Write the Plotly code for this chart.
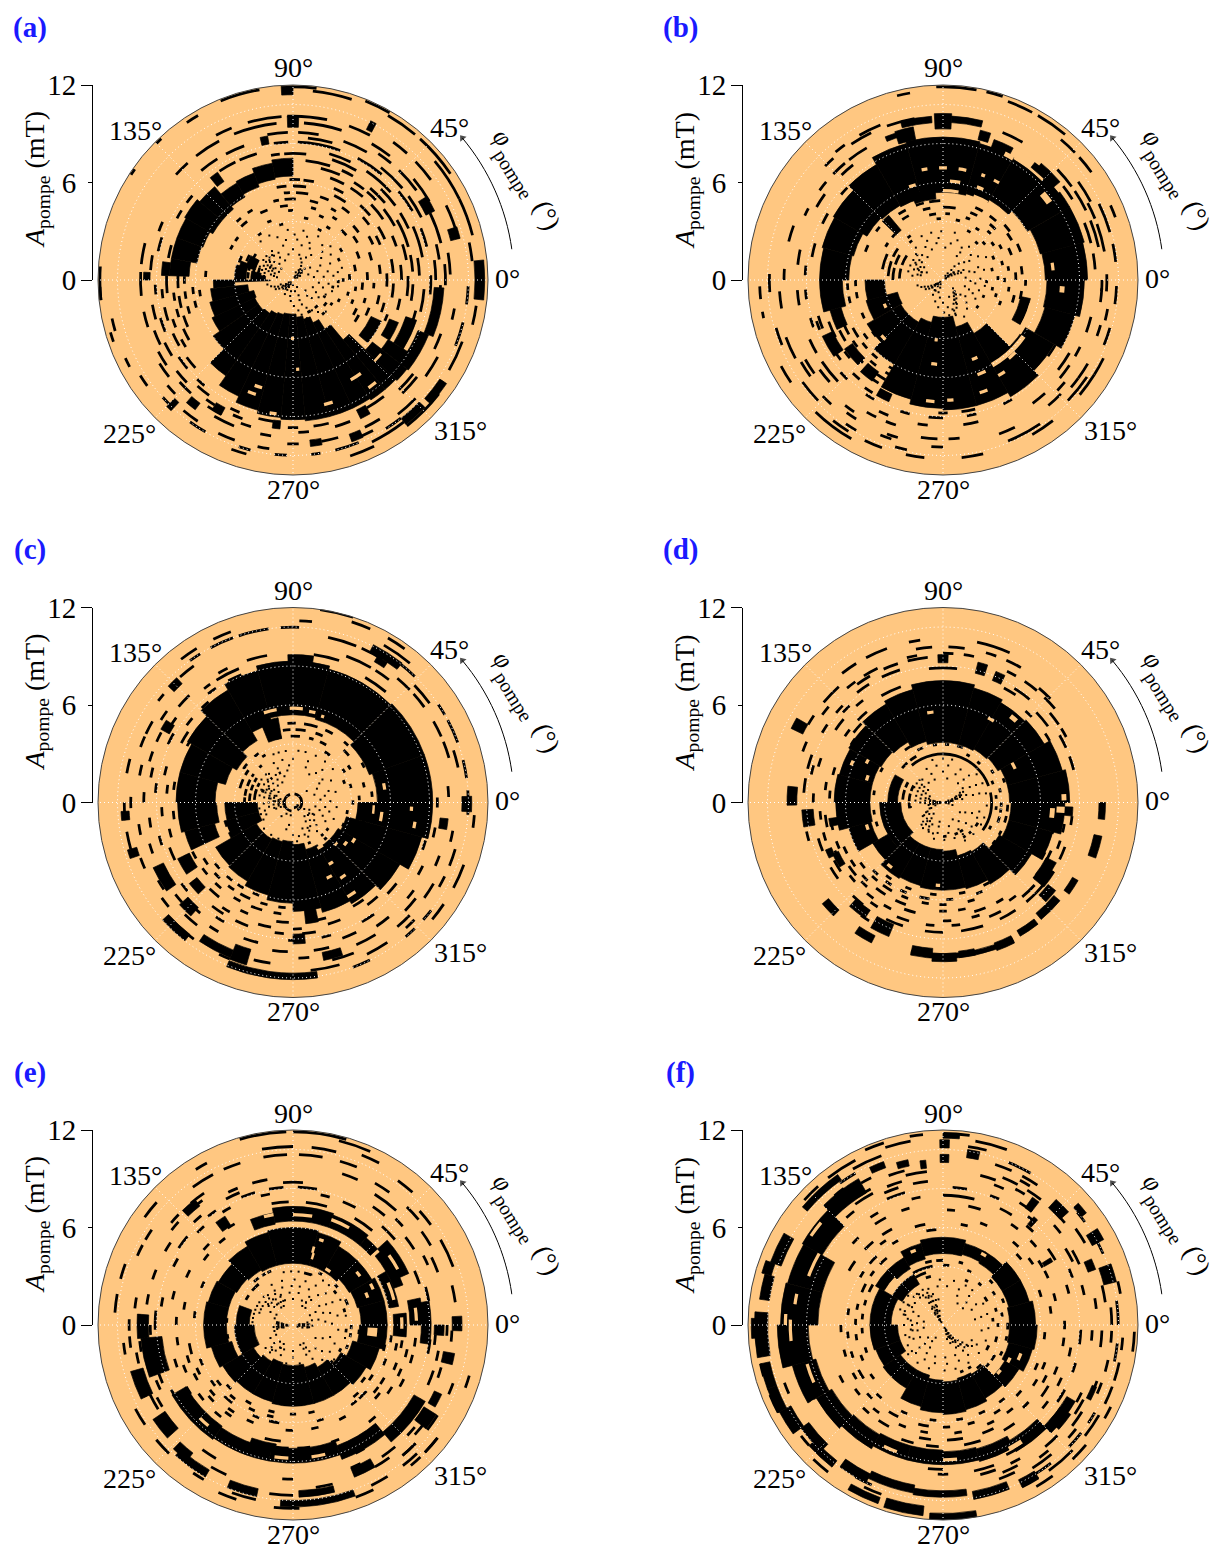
import plotly.graph_objects as go

W, H = 1213, 1547
ORANGE = "#FFC781"
BLUE = "#1a1aff"

# Each *_solid row: amplitude from, amplitude to, angle from, angle to (filled black regions)
# Each *_holes row: same, orange gaps inside black regions
# Each *_rings entry: amplitude -> pairs of angle from, angle to (thin black arcs)
# Each *_dots / *_streak entry: amplitude -> angles of isolated points
a_solid = [(6.4,7.5,90,100),(6.3,7.3,100,110),(6.1,7.0,110,120),(5.9,6.9,120,130),(5.7,7.5,130,140),(5.7,7.7,140,150),(5.9,7.6,150,160),(6.0,7.6,160,170),(6.4,7.6,170,178),
 (3.6,4.9,180,186),(2.8,5.1,186,195),(2.5,5.3,195,205),(2.6,5.5,205,215),(2.6,6.0,215,225),(2.5,7.2,225,235),(2.3,7.9,235,245),(2.2,8.3,245,255),(2.1,8.5,255,265),(2.1,8.6,265,275),(2.3,8.7,275,285),(2.5,8.7,285,295),(2.9,8.7,295,303),(3.6,8.8,303,310),(4.8,8.8,310,316),(6.2,8.9,316,322),(6.9,8.6,322,328),
 (8.3,9.0,322,338),(8.7,9.3,338,357),(7.3,8.0,328,342),(6.4,7.0,328,338),(5.3,6.0,320,335),
 (2.0,2.6,168,180),(2.4,3.0,150,165),(2.9,3.4,160,180),(1.7,2.2,172,180),(3.3,3.6,165,180),(1.4,3.6,180,182),
 (11.4,11.95,90,93.5),(10.9,11.4,318,326),(10.8,11.3,308,316),(11.2,11.8,-6,6),(10.1,10.6,290,294),(9.9,10.3,276,280),(8.9,9.5,296,300),(8.7,9.2,262,265),(10.3,11.0,225,227),(8.9,9.4,238,242),(9.5,10.0,229,233),(10.3,10.9,62,64),(9.4,10.1,88,92),(8.5,9.0,100,103),(7.4,8.1,125,129),(8.8,9.2,177,180),(7.6,8.1,172,178),(10.0,10.6,14,18),(9.1,9.7,26,32)]
a_holes = [(7.0,7.2,300,306),(7.8,8.0,284,288),(5.4,5.6,272,274),(8.2,8.4,260,263),(7.3,7.5,248,252),(3.5,3.7,268,271),(7.0,7.15,315,320),(8.0,8.2,305,309),(6.8,7.0,250,254)]
a_rings = {11.8:[60,68,83,90,100,112,133,135,145,147,176,186,182,186],
 11.6:[50,60,72,84,34,48,196,199,120,124],
 11.3:[26,40,14,26,-2,4,-14,-8,288,296,308,322,192,196,205,208],
 11.0:[6,12,-30,-20,-42,-34,296,308,250,255,-50,-44,212,216],
 10.7:[276,279,284,292,302,308,222,226,234,240,252,256,264,268,-22,-14,-8,-2],
 10.4:[14,26,36,44,48,54,290,298,230,236,244,250,258,262,308,316],
 10.0:[78,92,94,106,112,118,62,70,-36,-28,-14,-10,280,286,296,302,268,272,220,224],
 9.6:[72,86,96,112,118,128,132,138,52,60,30,40,-46,-38,2,10,-26,-20,212,218,240,248,258,262],
 9.3:[166,174,177,186,192,198,208,214,222,228,236,242,250,254,272,276,286,292,314,322,14,26,36,46,50,56,-2,6],
 9.0:[60,70,80,88,92,100,-10,-2,200,206,218,224,234,238,246,250,268,272,278,284,300,308,8,14],
 8.7:[110,118,122,130,40,52,74,84,26,36,0,8,156,160,170,176,190,196,206,212,228,234,244,248,256,262],
 8.4:[70,88,92,98,50,62,30,40,14,22,-6,2,162,168,182,186,196,202,214,220,226,230],
 8.0:[106,114,116,124,64,74,42,56,10,24,-14,-4,140,144,148,152,184,188,192,198,204,210,216,222],
 7.7:[84,94,96,100,60,72,36,46,24,32,2,10,164,170,178,186,198,202,208,212,-20,-14,-28,-24],
 7.3:[60,66,72,84,40,50,16,30,4,12,-10,-2,186,190,194,198,204,210,-26,-18],
 7.0:[66,76,44,50,52,58,28,38,10,18,-8,2,178,184,188,194,198,204],
 6.6:[50,58,62,70,34,44,18,24,0,8,-16,-10,178,182,186,190,194,198,-28,-24],
 6.1:[78,84,86,92,60,66,40,48,24,32,4,12,-10,-2,184,188,192,196,-24,-20],
 5.7:[82,90,94,100,56,64,36,42,22,28,-4,4,-20,-14,186,190],
 5.3:[80,88,92,96,66,72,50,56,24,30,4,10,-16,-10,174,178],
 4.9:[88,96,100,104,72,78,58,62,36,42,14,20,-6,-2,-26,-20,120,124,130,134],
 4.5:[94,100,110,116,128,134,72,76,54,58,30,36,0,6,-18,-14,-34,-28],
 4.2:[90,94,64,68,40,46,18,24,-8,-2,-30,-24,142,146,150,154],
 3.8:[110,114,76,80,54,58,8,14,-10,-6,-22,-18],
 3.4:[100,104,124,128,60,64,30,34,0,6,-16,-12,155,162,166,176],
 3.0:[150,158,162,172,174,180,22,26,-2,2,-26,-22],
 2.7:[145,152,156,168,170,178,-4,0,-34,-30,-50,-46],
 2.4:[150,160,164,180,-12,-8,-40,-34],
 2.1:[160,178,-30,-26,-52,-46,-66,-60]}
a_dots = {3.1:[118,130,96,78,60,42,14],2.8:[110,88,72,50,34,10,-8,-44],2.5:[100,84,66,44,24,6,-16,-52,-70],2.2:[126,106,76,62,38,14,-6,-24,-58,-76,-88],1.9:[140,128,118,90,54,28,6,-14,-34,-64,-80],1.6:[150,136,120,100,60,20,-6,-28,-44,-70,-88],1.3:[146,130,112,36,8,-20,-48,-72,-96],1.0:[150,136,44,20,-40,-70,-100,-120],0.7:[40,60,-120,-100,-80,210,230],0.5:[30,50,70,210,225,240,-60],0.3:[30,60,210,240,270]}
a_streak = {0.2:[45,225,60],0.4:[42,48,222,230],0.6:[44,52,218,226],0.8:[46,56,214,222,200],1.0:[60,212,204,170],1.2:[64,208,200,168,160],1.4:[70,166,156,150,196],1.6:[76,160,152,146,190],1.8:[150,158,166,172,142],2.0:[146,154,162,136,130],2.2:[138,146,158]}

b_solid = [(6.3,8.9,0,15),(6.2,9.0,15,30),(6.0,8.9,30,45),(5.7,8.6,45,60),(5.5,8.7,60,75),(5.4,8.8,75,90),(5.4,8.8,90,105),(5.2,8.7,105,120),(5.3,8.2,120,135),(5.4,7.8,135,150),(5.7,7.7,150,165),(5.8,7.6,165,180),(6.2,7.6,180,195),(6.5,7.2,195,205),
 (3.6,4.8,180,195),(2.9,4.9,195,210),(3.0,5.4,210,225),(3.0,6.0,225,240),(2.7,7.6,240,255),(2.3,7.9,255,270),(2.3,8.0,270,285),(3.0,8.0,285,300),(3.8,8.3,300,315),(5.8,7.9,315,330),(6.5,8.4,330,345),(6.4,8.7,345,360),(4.9,5.5,-30,-12),
 (9.3,10.25,87,93),(8.8,9.6,101,108),(8.9,9.5,72,76),(8.6,9.2,62,70),(8.8,9.4,40,52),(8.5,9.0,30,37),(5.0,5.6,95,110),(9.7,10.1,76,87),(9.7,10.1,94,105),(9.2,9.5,105,112),(4.0,5.2,130,136),(7.5,8.2,205,215),(6.8,7.4,215,225),(6.9,7.6,228,235),(7.7,8.2,240,246)]
b_holes = [(5.9,6.2,300,325),(5.5,5.85,325,345),(5.7,6.1,-15,8),(6.8,7.0,60,63),(6.8,7.0,68,70),(6.8,7.0,78,82),(6.8,7.0,88,92),(6.8,7.0,98,101),(6.0,6.2,106,110),(6.0,6.2,80,86),(6.0,6.2,66,70),(5.4,5.6,80,90),(5.4,5.6,60,70),(3.6,3.8,262,265),(5.1,5.3,262,266),(5.1,5.3,290,294),(6.1,6.3,290,295),(6.7,6.9,300,304),(6.2,6.4,-50,-45),(5.0,5.2,222,226),(3.8,4.0,202,206),(7.4,7.6,262,266),(7.3,7.5,272,275),(7.2,7.4,288,292),(6.7,6.9,5,9),(7.2,7.5,-6,-3),(8.5,8.8,60,64),(9.2,9.5,50,60),(7.9,8.3,36,41)]
b_rings = {11.8:[80,92,72,77],11.6:[50,60,100,104,62,70],
 11.2:[44,50,36,42,20,24,190,192,182,186,208,214,226,240],
 10.9:[300,308,276,283,258,264,320,328,-32,-26,232,238,244,250],
 10.6:[292,304,316,326,16,26,6,12,-8,-2,-22,-16,178,184,196,202,216,224,236,240,254,258],
 10.2:[28,36,112,120,126,130,-14,-10,-36,-30,-40,-36,200,208,224,228,248,252,266,270],
 10.0:[100,110,116,124,132,136,10,20,22,28,-4,2,-20,-16,184,190,210,216,234,238,250,254,290,296,310,316],
 9.7:[60,68,36,44,26,34,12,22,-4,0,-8,-3,176,180,160,166,210,216,232,236,262,268,272,276,-44,-40],
 9.3:[120,128,130,136,140,144,152,155,32,38,14,22,4,10,-20,-14,216,222,240,244,248,252,306,312,320,326,-30,-26],
 8.9:[128,134,144,150,168,174,184,190,204,210,214,224,244,248,260,264,278,284,322,330],
 8.4:[174,178,184,188,196,200,-10,-6,222,226,236,240,252,256,264,270,280,284,296,300],
 8.1:[136,140,150,155,164,170,198,202,234,238,268,272,278,284,-28,-22,-16,-12],
 7.9:[196,202,214,218,226,230,-4,0,-36,-30],7.4:[200,208,216,220,232,238],7.0:[206,212,222,226,234,240,246,250],
 6.6:[204,210,214,218,228,232,238,244,250,254],6.2:[208,214,218,222,226,230,238,242],5.8:[214,218,190,194,182,186,170,174],
 5.3:[180,184,188,192,202,206,216,220,226,230],5.0:[155,160,140,144,36,42,20,26,-4,0],
 4.8:[92,100,104,110,118,124,60,66,48,54,30,36,4,10,-14,-8],4.4:[80,90,100,106,118,124,62,68,44,50,20,26,0,6,-18,-12],
 4.0:[84,88,96,102,66,70,44,48,28,32,8,12,-10,-6,136,140,146,150],3.7:[74,78,92,96,54,58,34,38,14,18,-2,2,-24,-20,155,170],
 3.3:[126,130,145,155,160,176,60,64,40,44,22,26,0,4,-18,-14],3.0:[128,132,150,162,166,180,46,50,10,14,-12,-8],2.6:[146,160,165,178,-4,0,-24,-20,-40,-36]}
b_dots = {3.0:[116,104,92,76,28],2.6:[130,112,96,70,52,34,14,-8,-60],2.3:[136,118,100,78,60,42,20,2,-16,-30,-50,-70,-90],2.0:[148,130,110,86,58,36,14,-6,-24,-44,-70,-88],1.7:[156,140,124,60,40,18,-2,-20,-36,-60,-80,-100],1.4:[160,146,46,26,6,-16,-40,-60,-90,-110],1.1:[155,50,30,-50,-70,-100,-124],0.8:[50,36,-110,-130,215,235],0.5:[40,55,210,230,250],0.3:[40,60,220,240]}
b_streak = {0.2:[35,215,30],0.4:[32,38,212,218],0.6:[28,36,210,216],0.8:[26,34,206,214,320],1.0:[24,204,212,316,310],1.2:[22,200,208,312,304],1.4:[160,168,198,306,300],1.6:[150,158,168,192,300,294],1.9:[140,150,160,172,296,288],2.2:[136,146,156,166,290,280]}

c_solid = [(5.2,8.6,0,20),(5.0,8.6,20,45),(5.3,8.5,45,75),(5.4,8.7,75,105),(5.0,8.4,105,120),(4.4,8.0,120,135),(4.0,7.5,135,150),(4.3,7.2,150,165),(4.8,7.2,165,180),(4.7,7.1,180,195),(5.0,6.9,195,205),
 (2.2,4.2,180,195),(2.2,4.4,195,210),(2.6,5.5,210,225),(2.6,5.6,225,240),(2.5,5.9,240,255),(2.4,6.2,255,270),(2.6,6.7,270,285),(3.0,7.0,285,300),(3.2,7.2,300,315),(3.2,7.6,315,330),(3.4,8.2,330,345),(4.0,8.6,345,360),
 (8.5,9.1,82,92),(4.0,5.3,100,112),(6.6,7.5,276,282),(10.4,10.9,52,63),(10.0,10.4,56,60),(9.1,9.6,-10,-6),(10.4,11.0,-3,2),(10.1,10.6,183,186),(10.0,10.6,196,199),(8.8,9.5,205,215),(8.7,9.4,222,228),(7.1,7.9,206,214),(9.4,10.4,248,254),(8.1,8.7,270,275),(10.5,10.9,248,262),(10.5,10.9,262,278),(9.4,9.9,281,288),(7.5,8.1,218,224),(8.7,9.3,147,151),(10.0,10.5,133,137),(10.3,10.8,222,232),(9.8,10.3,236,248)]
c_holes = [(5.5,5.7,70,72),(5.6,5.8,76,80),(5.7,5.9,84,92),(5.7,5.9,100,108),(5.0,5.15,48,54),(5.0,5.15,64,68),(4.9,5.05,-8,-2),(5.6,5.8,8,12),(7.2,7.4,-4,-2),(7.5,7.7,-12,-9),(4.3,4.5,-60,-56),(4.0,4.2,-40,-36),(5.0,5.2,-66,-62),(4.3,4.5,-34,-30),(3.6,3.75,-46,-42),(5.4,5.6,-12,-6),(4.3,4.5,200,205),(4.5,4.7,178,182),(3.1,3.3,-62,-55),(5.4,5.6,-58,-54),(6.6,6.8,-60,-55)]
c_rings = {11.9:[72,82],11.6:[66,72,54,60],11.1:[50,60,84,88,110,116,122,128,-28,-20,-8,-4,-40,-34],
 10.7:[88,94,98,108,110,118,122,126,46,52,30,34,20,28,8,14,-4,4,-42,-38,-50,-46,-70,-64],
 10.3:[68,78,58,66,126,132,140,143,36,44,12,18,-22,-16,-30,-26,165,170,180,186,190,196,226,234,244,248,276,286,296,304,312,316],
 9.9:[44,50,36,42,24,30,16,22,-14,-10,-50,-44,150,155,156,160,178,182,200,204,216,220,238,244,256,262,284,292,-36,-30],
 9.5:[60,70,52,58,144,148,166,170,188,192,210,214,226,232,250,254,272,276,294,302,316,322,-24,-20,2,6],
 9.1:[72,82,100,108,116,120,134,140,152,156,160,164,176,180,196,200,218,222,236,240,262,268,278,284,304,310,-40,-36],
 8.8:[50,60,112,122,125,128,144,148,166,170,186,190,206,210,226,230,250,256,290,296,-30,-26,-14,-10,-2,2],
 8.4:[112,118,124,128,150,155,172,176,194,198,216,220,236,240,268,272,282,286,300,306,-20,-16],
 8.0:[130,134,140,144,164,168,182,186,200,206,232,238,244,250,262,266,274,280,316,322],
 7.7:[146,152,172,176,192,196,218,222,236,240,254,260,270,274,286,292,306,312],
 7.3:[134,138,148,152,170,174,184,188,206,212,226,232,244,248,262,268,280,286,300,306,-44,-40],
 6.8:[206,210,216,220,226,230,238,242,248,254,260,264],6.4:[212,216,222,226,232,236,240,246,252,256,262,266],6.0:[218,222,228,232,236,240,246,250,262,266],
 4.8:[60,66,72,82,88,94,46,50,26,30,4,8,-14,-10,-28,-24],4.4:[66,72,80,88,92,98,40,46,12,16,-4,0,-20,-14],
 4.0:[60,66,72,76,84,92,100,106,30,34,2,6,-10,-6,-16,-12],3.6:[52,58,30,34,14,18,-2,2,-24,-20,-34,-30,125,130,140,146],
 3.3:[120,124,144,150,155,165,20,24,-12,-8,-26,-22],2.9:[130,134,144,148,152,160,164,172,174,180,-50,-46],2.6:[146,152,156,164,168,178,-40,-36,-50,-46,-70,-66,-90,-84],2.3:[150,156,160,176],
 1.9:[112,116,130,134,156,162],0.45:[-60,80,110,260],0.25:[-80,-20]}
c_dots = {3.2:[98,106,112,84,76,64,52,40],2.7:[116,104,90,70,48,30,14,-6,-22],2.3:[130,114,96,70,52,38,18,2,-14,-30,-50,-66],2.0:[140,122,100,60,36,12,-8,-24,-44,-60,-90],1.7:[150,136,124,108,30,6,-16,-40,-70,-104],1.4:[146,132,118,170,20,-10,-30,-56,-100],1.1:[158,144,176,200,40,-24,-50,-130],0.8:[165,180,200,-30,-100,-120],0.6:[175,190,205]}
c_streak = {0.9:[170,176,186,192],1.2:[160,166,176,186,196,-40,-34],1.5:[152,158,164,170,180,190,-46,-30],1.8:[146,154,160,170,182,196,204,-54,-60],2.1:[138,148,158,168,190,200,210,-70,-80],2.4:[134,144,164,222,236,248,-84]}

d_solid = [(4.1,7.8,0,15),(4.1,7.6,15,30),(3.9,7.2,30,45),(3.8,7.1,45,60),(3.7,7.3,60,75),(3.7,7.5,75,105),(3.9,7.2,105,120),(4.3,7.0,120,135),(4.4,6.7,135,150),(4.5,6.6,150,165),(4.5,6.7,165,180),(4.5,6.6,180,195),(4.6,6.0,195,210),(3.9,5.0,210,225),
 (2.9,5.4,225,240),(2.9,5.3,240,255),(2.9,5.4,255,270),(3.0,5.4,270,285),(3.4,5.5,285,300),(3.5,5.8,300,315),(4.0,6.3,315,330),(4.2,7.0,330,345),(4.2,7.5,345,360),(2.6,3.9,180,225),(2.8,3.4,150,180),
 (8.6,9.1,88,92),(8.2,8.9,72,76),(8.1,8.7,64,68),(9.0,9.6,174,181),(8.0,8.7,183,190),(9.6,10.0,-6,0),(7.0,8.0,-6,-2),(9.5,10.0,-20,-12),(9.6,10.4,150,154),(7.1,7.5,205,212),(9.2,9.7,290,297),(9.3,9.8,266,275),(9.2,9.7,220,226),(9.2,9.7,236,243),(9.0,9.5,258,266),(8.9,9.4,310,320),(9.1,9.5,300,308),(9.2,9.6,276,282),(9.3,9.6,258,282),(9.3,9.6,282,297),(8.1,8.9,240,248),(8.0,8.6,228,236),(7.2,7.9,322,332),(7.3,8.1,-40,-32),(6.3,7.1,188,192),(7.4,7.8,202,206),(9.2,9.6,-36,-30),(8.2,8.8,-44,-38)]
d_holes = [(7.0,7.5,-5,-2),(7.3,7.6,1,4),(6.6,6.9,-8,-3),(5.5,5.7,96,100),(5.8,6.0,58,62),(4.8,5.0,25,30),(5.0,5.2,265,268),(6.6,6.9,48,52),(5.0,5.2,228,232),(4.8,5.0,160,164),(6.0,6.2,155,158),(5.2,5.4,150,153),(4.8,5.0,196,200)]
d_rings = {10.0:[98,102,110,118,122,128,66,78],9.5:[132,140,146,150,60,66,70,74,82,88,94,100],
 9.1:[44,50,116,122,126,130,78,82,86,90,100,104,140,144,156,160],8.9:[40,46,50,56,60,64,96,104,108,114,120,126],
 8.5:[34,40,28,32,108,116,122,128,136,140,146,150,160,166,170,176,192,196,234,238],8.2:[14,20,24,30,50,58,84,96,134,138,164,168],
 7.9:[36,44,56,62,128,132,140,146,160,164,176,180,196,202,210,216,226,232,244,252,262,270,278,288,296,304,316,322,-10,-6,-26,-20,-36,-32,-50,-44],
 7.5:[30,34,44,48,110,120,184,188,194,198,208,214,234,238,248,254,262,266,274,278,292,298,310,318,-14,-10,-22,-18],
 7.2:[10,14,20,24,130,136,142,146,170,174,186,192,204,208,218,222,230,234,240,244,270,274,284,288,304,308,-30,-24,-40,-36],
 6.9:[-16,-12,136,142,162,166,174,178,190,194,200,204,214,220,224,228,250,256,286,292,298,302,-30,-26],
 6.6:[130,134,144,148,204,208,212,216,222,226,232,238,244,250,268,272,278,282],6.2:[216,220,226,230,234,240,246,250,258,262,268,272,284,288],5.9:[224,228,234,238,244,248,256,262,272,276,290,294],5.6:[232,236,246,250,262,266,280,284,296,300],
 4.2:[186,190,196,200,170,174,150,154,210,214],3.9:[100,104,110,114,120,126,34,38,18,22,-8,-2,-18,-12,-30,-26,-40,-36],3.5:[110,116,96,100,84,88,70,76,30,34,10,14,-4,0,-10,-6,-20,-14],3.2:[120,128,132,140,60,64,46,50,20,24,4,8,-8,-4,-30,-26],
 2.9:[20,130,-35,12],2.4:[150,158,162,176,-36,-30,-50,-46,-60,-56],2.0:[150,160,165,178,180,190,-60,-54,-70,-64,-90,-84]}
d_dots = {2.7:[104,90,78,40,26,12,-4,-20,-30,-46,-60],2.3:[116,100,82,62,46,28,14,-14,-24,-40,-58,-72,-88,-104],1.9:[132,112,90,66,48,30,14,-20,-42,-60,-80,-100,-118,-134],1.5:[140,126,110,80,52,36,18,-24,-50,-76,-100,-116,-130,-146],1.2:[152,140,30,22,10,-30,-60,-100,-126,-150],0.9:[165,155,25,15,-156,-170,-130],0.6:[170,180,190,20,10,-15],0.35:[175,190,5,20,-10],0.15:[180,0]}
d_streak = {0.2:[170,190,10,-5],0.5:[172,184,8,14,-160],0.8:[170,178,186,16,22,-155],1.1:[166,174,182,24,18,-150,-140],1.4:[150,160,170,180,28,-146,-135,-125],1.7:[140,148,156,166,176,-136,-128,-120],2.0:[136,144,152,188,-128,-116,-108]}

e_solid = [(4.2,5.8,0,15),(4.1,5.8,15,30),(4.0,5.6,30,45),(3.8,5.6,45,60),(3.8,5.9,60,75),(3.8,6.0,75,105),(3.8,5.9,105,120),(3.9,5.6,120,135),(4.0,5.3,135,150),(4.1,5.4,150,165),(4.1,5.5,165,195),(3.9,5.2,195,210),(2.8,5.0,210,225),(2.6,4.9,225,240),(2.4,4.9,240,255),(2.5,5.0,255,285),(2.7,5.0,285,300),(3.0,5.0,300,315),(3.4,5.2,315,330),(3.8,5.5,330,345),(4.1,5.8,345,360),(2.4,3.6,180,210),(2.7,3.5,160,180),
 (8.1,9.4,185,200),(8.9,9.6,176,185),(7.6,8.6,210,235),(7.7,8.5,235,260),(7.6,8.5,260,290),(7.9,8.8,290,310),(8.6,9.4,310,330),(7.4,7.9,250,262),(6.4,7.0,42,50),(6.4,7.3,70,100),(6.3,7.0,100,112),(6.4,7.2,50,70),(6.0,6.6,10,30),(6.6,7.2,20,40),(7.0,7.8,24,42),(7.2,8.0,0,12),(7.9,8.5,-8,10),(6.2,7.0,-6,6),
 (10.8,11.2,266,290),(10.3,10.8,228,240),(10.3,10.8,248,258),(10.2,10.6,272,284),(9.5,10.1,292,300),(10.0,10.6,226,232),(9.5,10.4,214,222),(9.6,10.4,196,206),(9.8,10.4,-2,3),(9.6,10.1,-30,-25),(9.5,10.4,-38,-32),(9.3,9.8,128,134),(7.2,7.9,122,127),(9.4,10.1,-14,-10),(8.7,9.3,-4,0)]
e_holes = [(5.0,5.2,36,40),(5.4,5.6,70,73),(4.2,4.6,73,75),(4.6,5.0,74,76),(4.6,5.2,-8,-2),(3.9,4.1,55,60),(4.8,5.0,20,24),(5.3,5.5,24,28),(6.8,7.0,60,70),(6.7,6.9,80,90),(6.3,6.5,14,24),(7.2,7.4,28,36),(6.8,7.0,100,105),(7.5,7.7,2,8),(6.6,6.8,-2,4),(8.0,8.2,225,230),(8.1,8.3,262,268),(8.1,8.3,278,284)]
e_rings = {11.8:[92,106,74,90],11.6:[66,76],11.2:[62,68,118,122,138,144,-20,-16,-44,-38,-50,-46,246,252,264,272,290,296,316,322],
 10.9:[76,84,90,100,48,54,160,165,170,176,208,214,220,226,236,240,250,258,296,302,308,314],
 10.4:[80,88,92,100,68,74,108,114,118,126,146,150,152,156,20,30,36,42,-50,-44,-24,-20,186,190,262,270,310,316,322,328],
 10.0:[54,60,40,46,8,14,184,188,200,206,240,246,278,284,300,306,-42,-36,178,182],9.7:[66,72,124,130,136,140,30,36,-6,-2,170,174,190,194,206,212,304,310,316,320],
 9.4:[48,58,126,130,138,142,20,26,176,180,186,190,208,212,234,240,266,270,292,296,-20,-16,-4,0],
 9.0:[100,106,112,116,42,46,146,150,158,162,168,172,182,186,202,206,326,330,336,342,-14,-10,24,28],8.7:[86,94,112,118,130,134,50,56,32,38,-8,-4,180,184,200,204,296,300],
 8.4:[80,88,94,100,106,112,124,128,140,146,174,178,178,182,196,200,208,212,220,226,-12,-6,10,16],8.1:[62,68,74,78,100,104,118,122,132,136,150,154,40,48,18,24,2,8,168,172,186,190],
 7.5:[196,200,210,214,262,268,272,278,288,292,308,312,-30,-26,-18,-14,-10,-6,164,168,50,60,74,84,92,100],7.1:[176,180,186,190,200,204,216,220,228,232,256,264,-26,-22,-36,-32,-16,-12,152,156,136,140,120,124],
 6.7:[196,200,206,210,220,224,232,236,-42,-38,-24,-20,-12,-8,168,172,140,144,128,132],6.4:[190,196,204,208,218,222,232,236,244,248,266,270,280,284,296,300,320,324,-34,-30,-14,-10],
 6.0:[200,204,214,218,226,232,246,250,256,262,284,288,306,310,-48,-42,-24,-20,-10,-6,172,176,154,158],5.7:[216,220,228,232,242,246,254,258,-50,-46,-36,-32,-16,-12],5.4:[222,226,238,242,254,258,268,272,280,284,-40,-36],
 4.0:[188,192,174,178,200,204,-8,-4,-20,-16],3.5:[112,116,118,122,126,132,60,64,40,44,20,26,-4,0,-12,-8,-24,-20,-34,-30],3.2:[130,140,146,152,70,78,36,40,14,18,-8,-4,-30,-26,-46,-42]}
e_dots = {3.3:[100,92,84,70,56,48,28,10,-14,-40,-56],2.8:[118,104,88,74,60,44,30,12,-6,-24,-36,-50,-66,-84],2.4:[130,118,106,92,80,66,50,32,18,2,-18,-42,-60,-80,-100],2.0:[140,128,112,96,80,60,36,22,6,-24,-46,-66,-90,-112,-130],1.6:[150,136,124,108,90,60,30,12,-30,-60,-90,-120,-136,-150],1.2:[160,148,30,14,-2,-150,-162,-174],0.9:[170,176,184,190,10,2,-6,-10],0.6:[175,185,195,5,-5,-15],0.3:[185,0,-20]}
e_streak = {0.4:[178,186,8,-8],0.7:[172,180,188,-4,4,192],1.0:[170,176,186,194,-8,2],1.3:[116,124,64,54,-128,-116,-60,-70],1.6:[112,118,128,60,70,-118,-110,-66],1.9:[114,124,134,142,54,-124,-134,-58],2.2:[120,132,140,148,154,160,-130,-140],2.5:[136,146,152,158,164,170,176]}

f_solid = [(4.1,5.7,0,15),(4.2,5.5,15,30),(4.2,5.5,30,45),(4.4,5.2,45,60),(4.5,5.2,60,75),(4.4,5.4,75,105),(4.2,5.2,105,120),(4.0,4.8,120,135),(4.2,4.8,135,150),(3.2,4.5,150,180),(2.8,4.5,180,200),(2.8,4.4,200,215),(3.2,4.5,215,240),(3.2,5.2,240,255),(3.4,5.4,255,270),(3.5,5.5,270,285),(3.4,5.4,285,300),(3.5,5.2,300,315),(4.4,5.4,315,330),(4.2,5.7,330,345),(4.1,5.8,345,360),(2.9,3.6,120,150),
 (9.4,10.4,120,135),(8.6,10.0,135,150),(7.7,9.9,150,165),(7.7,10.0,165,180),(8.3,10.2,180,195),(8.1,9.6,195,210),(7.9,9.0,210,225),(7.8,8.8,225,240),(7.7,8.6,240,255),(7.7,8.6,255,270),(7.8,8.6,270,285),(7.9,8.7,285,300),(8.2,9.0,300,315),(8.8,9.4,315,330),
 (10.6,11.3,150,160),(11.0,11.6,160,164),(10.8,11.4,164,172),(10.8,11.6,176,190),(11.1,11.8,178,184),(10.9,11.5,192,200),(10.9,11.5,200,208),(10.6,11.4,208,216),(10.2,10.8,216,226),(10.6,11.1,222,232),(10.2,10.8,234,244),(10.0,10.5,244,260),(10.2,10.6,260,278),(11.2,11.8,252,264),(11.6,12.0,266,280),(11.3,11.7,240,250),(10.4,10.9,280,292),(10.6,11.1,296,302),(10.9,11.3,125,140),
 (10.0,10.5,88,91),(9.7,10.2,96,98),(10.4,10.9,78,82),(10.0,10.4,102,106),(10.3,10.7,110,115),(10.9,11.4,88,91),(11.5,11.8,85,90),(9.5,10.0,20,24),(8.8,9.6,52,55),(8.1,8.7,48,50),(9.7,10.4,42,48),(10.8,11.2,38,42),(10.4,11.2,28,32),(10.2,11.0,14,20),(9.9,10.2,333,338),(8.8,9.6,318,325),(7.2,7.8,30,32)]
f_holes = [(8.7,8.9,150,160),(9.3,9.5,178,186),(8.6,8.8,196,204),(9.1,9.3,168,172),(9.2,9.4,210,214),(8.2,8.4,244,250),(8.2,8.4,270,276),(9.6,9.8,176,180),(9.7,9.9,140,146),(8.5,8.8,298,304),(4.8,5.0,110,114),(4.9,5.1,58,62),(5.0,5.2,-25,-20),(4.5,4.7,-30,-26),(4.4,4.6,318,322)]
f_rings = {11.7:[82,90,96,100,108,114,-8,-2],11.4:[70,80,100,108,118,128,132,138,-60,-54,-46,-40,-30,-26,192,196,202,208,226,232],
 11.0:[76,82,110,120,128,132,-18,-12,-8,-4,10,14,296,302,306,316,322,330,-26,-20,218,222,244,250],
 10.7:[60,68,120,126,36,40,24,30,0,8,-12,-6,300,308,316,322,-34,-30,240,246],
 10.3:[66,72,56,62,126,130,0,6,-6,-2,-16,-12,-24,-20,302,310,318,322,216,220,200,204],
 10.0:[58,62,30,36,8,14,116,120,-38,-32,-24,-20,290,296,306,310],
 9.7:[62,68,52,58,40,46,104,110,-8,-2,292,298,310,316,326,332],9.4:[70,76,96,104,118,124,58,62,6,10,284,290,296,300,-30,-26],9.1:[106,112,118,126,66,70,38,42,24,30,-6,-2,268,272,282,290],
 8.8:[96,102,108,114,52,58,26,32,12,16,128,132,264,270,296,304],8.4:[106,114,80,86,66,70,48,52,20,24,-8,-2,-20,-16,326,332],7.9:[76,90,58,64,46,50,30,36,100,104,120,124,14,18,-14,-10,-28,-24,-40,-36],
 7.4:[72,78,52,56,40,44,106,110,118,124,134,138,-2,2,-10,-6,-24,-20,-36,-30,250,256,262,268,280,288,300,306],7.0:[84,88,30,34,24,28,12,16,-46,-42,-30,-26,206,210,226,230,236,242,258,264,272,280,290,296],
 6.6:[66,70,46,50,34,38,118,124,130,136,144,150,6,10,-24,-20,-34,-30,216,220,230,234,246,250,258,262,276,280,294,298,306,310],
 6.2:[76,80,100,106,124,128,40,44,16,20,-8,-4,-26,-22,-44,-40,180,184,194,198,208,212,222,226,238,244,256,262,270,274,284,288,300,304],
 5.8:[94,100,118,122,134,140,146,150,170,174,184,188,196,200,208,214,226,230,244,248,262,266,278,282,292,296,306,310],
 5.3:[130,136,142,146,152,158,166,170,176,180,186,190,200,204,214,218],4.9:[150,156,162,166,172,176,182,186,196,200,-10,-4],
 3.9:[100,106,90,96,72,76,40,44,20,24,-4,2,-14,-10,-28,-24],3.6:[100,120,84,90,62,66,30,34,8,12,-36,-30,-44,-40],3.3:[108,120,46,50,14,18,-2,2,-18,-12,-52,-46],3.0:[104,110,60,64,28,34,4,8,-30,-24,-60,-56,-70,-66]}
f_dots = {2.8:[94,76,60,50,28,14,-4,-20,-38,-56,-74,-88,-108,-124,-140,140,150,160],2.4:[128,112,98,84,66,48,32,12,-8,-30,-50,-66,-84,-102,-118,-134,150,165,180,195],2.0:[122,116,108,64,44,28,10,-28,-40,-52,-68,-86,-104,-120,-136,156,172,188,205],1.6:[118,112,106,100,56,40,-48,-54,-60,-120,-134,160,176,192,208],1.2:[124,116,108,-52,-60,-68,-124,-140,170,188],0.9:[124,112,104,-62,-74,-120],0.6:[120,110,-60,-70],0.3:[125,-55]}
f_streak = {0.2:[120,-60],0.4:[118,126,-58,-64],0.6:[114,122,-56,-62],0.8:[116,126,-54,-60,-66],1.0:[118,112,-52,-58],1.3:[110,120,-46,-54],1.6:[122,114,-48,-42],1.9:[118,112,-40,-46,180,190],2.2:[116,124,130,142,150,-36,170,200],2.5:[120,130,136,150,160,165,210,220]}

panel_names = ["(a)", "(b)", "(c)", "(d)", "(e)", "(f)"]
panel_solid = [a_solid, b_solid, c_solid, d_solid, e_solid, f_solid]
panel_holes = [a_holes, b_holes, c_holes, d_holes, e_holes, f_holes]
panel_rings = [a_rings, b_rings, c_rings, d_rings, e_rings, f_rings]
panel_dots = [a_dots, b_dots, c_dots, d_dots, e_dots, f_dots]
panel_streak = [a_streak, b_streak, c_streak, d_streak, e_streak, f_streak]
radial_ticks = [0, 6, 12]
grid_amplitudes = [3.6, 6, 8.4, 10.8]
grid_angles = [0, 45, 90, 135, 180, 225, 270, 315]
angle_labels = ["0°", "45°", "90°", "135°", "225°", "270°", "315°"]

CX = [293, 943]
CY = [280, 802.5, 1325]
R = 195
R_OUT = 222
RING_T = 0.17
FONT = "Liberation Serif"
# label offsets from each panel centre, px
LABEL_OFF = [(214, -2), (157, -153), (0, -212), (-158, -150), (-164, 153), (0, 209), (167, 150)]


def px(x):
    return x / W


def py(y):
    return max(0.0, 1 - y / H)


fig = go.Figure()
layout = {}
ann = []
for i, name in enumerate(panel_names):
    cx, cy = CX[i % 2], CY[i // 2]
    pid = "polar" if i == 0 else f"polar{i+1}"
    layout[pid] = dict(
        domain=dict(x=[px(cx - R), px(cx + R)], y=[py(cy + R), py(cy - R)]),
        bgcolor=ORANGE,
        barmode="overlay",
        radialaxis=dict(range=[0, 12], visible=False, showgrid=False),
        angularaxis=dict(showticklabels=False, ticks="", showgrid=False, linecolor="#444444", linewidth=1, thetaunit="degrees", direction="counterclockwise", rotation=0),
    )

    def bars(rows, color, edge=0):
        fig.add_trace(go.Barpolar(
            r=[q[1] - q[0] for q in rows], base=[q[0] for q in rows],
            theta=[(q[2] + q[3]) / 2 for q in rows], width=[abs(q[3] - q[2]) for q in rows],
            marker=dict(color=color, line=dict(width=edge, color=color)), subplot=pid, hoverinfo="skip", showlegend=False))

    ring_rows = []
    for r, seg in panel_rings[i].items():
        for k in range(0, len(seg) - 1, 2):
            ring_rows.append((r, r + RING_T, seg[k], seg[k + 1]))
    bars(panel_solid[i], "black", 0.7)
    bars(panel_holes[i], ORANGE)
    bars(ring_rows, "black")

    dr, dt = [], []
    for group in (panel_dots[i], panel_streak[i]):
        for r, angs in group.items():
            for t in angs:
                dr.append(r)
                dt.append(t)
    fig.add_trace(go.Scatterpolar(r=dr, theta=dt, mode="markers", subplot=pid, showlegend=False, hoverinfo="skip",
                                  marker=dict(symbol="square", size=2, color="black", line=dict(width=0))))
    # white dotted polar grid
    circle = list(range(0, 361, 3))
    for g in grid_amplitudes:
        fig.add_trace(go.Scatterpolar(r=[g] * len(circle), theta=circle, mode="lines", subplot=pid, showlegend=False, hoverinfo="skip",
                                      line=dict(color="white", width=1, dash="1px 3px")))
    for a in grid_angles:
        fig.add_trace(go.Scatterpolar(r=[0, 12], theta=[a, a], mode="lines", subplot=pid, showlegend=False, hoverinfo="skip",
                                      line=dict(color="white", width=1, dash="1px 3px")))
    # pump-angle arrow, in a larger transparent polar frame sharing the panel's centre and scale
    pid_out = f"polar{i+7}"
    layout[pid_out] = dict(
        domain=dict(x=[px(cx - R_OUT), px(cx + R_OUT)], y=[py(cy + R_OUT), py(cy - R_OUT)]),
        bgcolor="rgba(0,0,0,0)",
        radialaxis=dict(range=[0, 12 * R_OUT / R], visible=False, showgrid=False),
        angularaxis=dict(visible=False, showline=False, showgrid=False, showticklabels=False),
    )
    arc = list(range(8, 41, 2))
    fig.add_trace(go.Scatterpolar(r=[13.6] * len(arc), theta=arc, mode="lines+markers", subplot=pid_out, showlegend=False, hoverinfo="skip", cliponaxis=False,
                                  line=dict(color="black", width=1),
                                  marker=dict(symbol="triangle-up", angleref="previous", color="black", size=[0] * (len(arc) - 1) + [7], line=dict(width=0))))
    # amplitude axis
    xa = "x" if i == 0 else f"x{i+1}"
    ya = "y" if i == 0 else f"y{i+1}"
    xk = "xaxis" if i == 0 else f"xaxis{i+1}"
    yk = "yaxis" if i == 0 else f"yaxis{i+1}"
    ax_x = cx - 200
    layout[xk] = dict(domain=[px(ax_x), px(ax_x + 1)], range=[0, 1], visible=False, anchor=ya, fixedrange=True, automargin=False)
    layout[yk] = dict(domain=[py(cy), py(cy - R)], range=[0, 12], anchor=xa, side="left", tickvals=radial_ticks, ticktext=[str(v) for v in radial_ticks],
                      ticks="outside", ticklen=4, tickwidth=1, tickcolor="black", showline=True, linecolor="black", linewidth=1, showgrid=False, zeroline=False, automargin=False,
                      ticklabelstandoff=6, tickfont=dict(family=FONT, size=29, color="black"), fixedrange=True,
                      minor=dict(tickmode="array", tickvals=[0, 12], ticks="outside", ticklen=11, tickwidth=1, tickcolor="black"))
    fig.add_trace(go.Scatter(x=[0, 0], y=[0, 12], xaxis=xa, yaxis=ya, mode="none", showlegend=False, hoverinfo="skip"))

    def text(x, y, t, size=28, angle=0, color="black", fam=FONT):
        ann.append(dict(x=px(x), y=py(y), xref="paper", yref="paper", text=t, showarrow=False, textangle=angle,
                        xanchor="center", yanchor="middle", font=dict(family=fam, size=size, color=color)))

    text(cx - 263, cy - 253, f"<b>{name}</b>", size=29, color=BLUE)
    for lab, (ox, oy) in zip(angle_labels, LABEL_OFF):
        text(cx + ox, cy + oy, lab)
    text(cx - 257, cy - 100, "<i>A</i><sub>pompe</sub> (mT)", angle=-90)
    text(cx + 210, cy - 143, "<i>φ</i>", size=26, angle=52)
    text(cx + 220, cy - 106, "pompe", size=20, angle=58)
    text(cx + 254, cy - 65, "(°)", size=27, angle=66)

fig.update_layout(template="none", width=W, height=H, margin=dict(l=0, r=0, t=0, b=0, pad=0, autoexpand=False), paper_bgcolor="white", plot_bgcolor="rgba(0,0,0,0)",
                  showlegend=False, annotations=ann, **layout)
fig.write_html("out.html", config={"displayModeBar": False}, post_script="document.body.style.margin='0';")
